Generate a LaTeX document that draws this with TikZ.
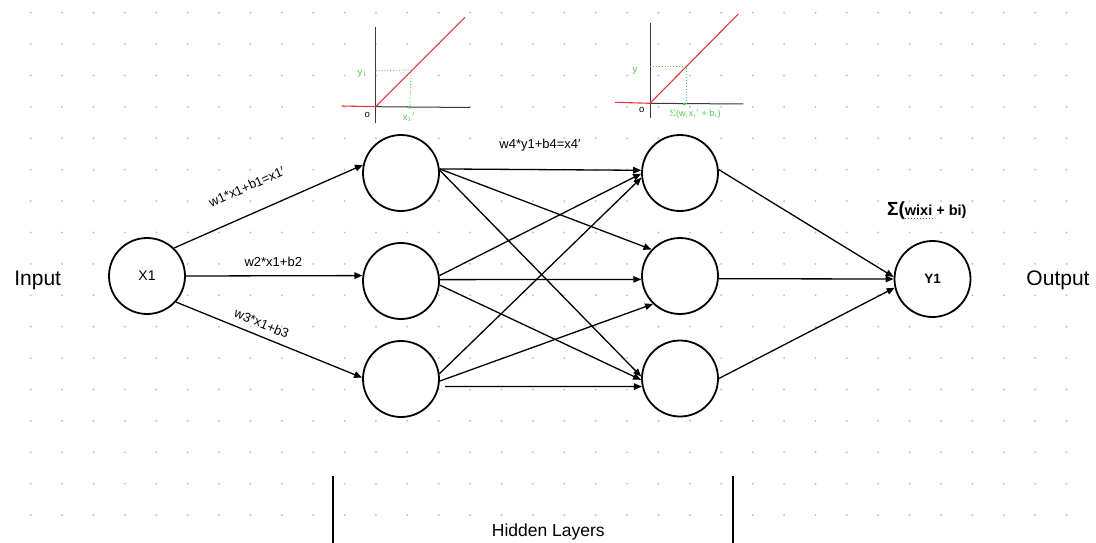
\documentclass[tikz,border=0pt]{standalone}
\usepackage{fontspec}
\setmainfont{Liberation Sans}
\usetikzlibrary{arrows.meta}
\definecolor{dotgray}{HTML}{C4C4C4}
\definecolor{hgreen}{HTML}{4CCB4C}
\definecolor{hred}{HTML}{E8333C}
\definecolor{axisgray}{HTML}{3A3A3A}
\begin{document}
\begin{tikzpicture}[x=1pt,y=-1pt,
  neuron/.style={circle,draw,line width=1.8pt,fill=white,minimum size=76pt,inner sep=0pt},
  conn/.style={line width=1.3pt,-{Triangle[length=8pt,width=6.5pt]}},
  wlabel/.style={font=\fontsize{13}{15}\selectfont,inner sep=0pt},
  biglabel/.style={font=\fontsize{21}{24}\selectfont,inner sep=0pt},
  axisline/.style={line width=1pt,axisgray},
  relu/.style={line width=1.1pt,hred},
  guide/.style={line width=0.9pt,hgreen,dotted},
  hand/.style={inner sep=0pt,text=hgreen,font=\fontsize{9.5}{10}\selectfont},
]
\useasboundingbox (0,0) rectangle (1096,543);
\fill[white] (0,0) rectangle (1096,543);
% dot grid
\foreach \i in {0,...,33}{
  \foreach \j in {0,...,16}{
    \fill[dotgray] ({30.7+31.39*\i},{12.7+31.4*\j}) circle (1.1);
  }
}
% neurons
\node[neuron,font=\fontsize{14}{16}\selectfont] (x1) at (147,276) {X1};
\node[neuron] (h1a) at (401,173) {};
\node[neuron] (h1b) at (401,281) {};
\node[neuron] (h1c) at (401,379) {};
\node[neuron] (h2a) at (680,173) {};
\node[neuron] (h2b) at (680,276) {};
\node[neuron] (h2c) at (680,378.5) {};
\node[neuron,font=\bfseries\fontsize{13.5}{16}\selectfont] (y1) at (932.5,279) {Y1};
% side texts
\node[biglabel] (inp) at (37.7,280) {Input};
\node[biglabel] (outp) at (1058,280) {Output};
% input -> hidden 1
\draw[conn] (x1.46) -- (h1a.168);
\draw[conn] (x1.0) -- (h1b.172);
\draw[conn] (x1.-42) -- (h1c.178);
\node[wlabel,rotate=24] (l1) at (246.7,186.7) {w1*x1+b1=x1′};
\node[wlabel] (l2) at (273.3,261.7) {w2*x1+b2};
\node[wlabel,rotate=-22.5] (l3) at (261.7,323.3) {w3*x1+b3};
% hidden 1 -> hidden 2
\draw[conn] (h1a.6.5) -- (h2a.176);
\draw[conn] (h1a.6) -- (h2b.137);
\draw[conn] (h1a.4) -- (h2c.177);
\draw[conn] (h1b.8) -- (h2a.181);
\draw[conn] (h1b.2.5) -- (h2b.185);
\draw[conn] (h1b.-6.5) -- (h2c.182);
\draw[conn] (h1c.8) -- (h2a.187);
\draw[conn] (h1c.-3.5) -- (h2b.226);
\draw[conn,shorten <=6pt] (h1c.-11.5) -- (h2c.192);
\node[wlabel] (l4) at (540,145) {w4*y1+b4=x4′};
% hidden 2 -> output
\draw[conn] (h2a.5.5) -- (y1.177);
\draw[conn] (h2b.-4.5) -- (y1.180);
\draw[conn] (h2c.0) -- (y1.193);
% sum label
\node[inner sep=0pt,anchor=base west] (sig) at (887,215) {\bfseries\fontsize{19}{20}\selectfont Σ(\fontsize{14.5}{16}\selectfont wixi + bi)};
\draw[hred,line width=1pt,dotted] (905,218.5) -- (933,218.5);
% hidden layers bracket
\draw[line width=1.6pt] (333,476) -- (333,543);
\draw[line width=1.6pt] (733,476) -- (733,543);
\node[inner sep=0pt,font=\fontsize{17.5}{20}\selectfont] (hl) at (548.3,531.5) {Hidden Layers};
% inset 1
\draw[axisline] (375.7,26.7) -- (375.7,123.3);
\draw[axisline] (375.7,106.7) -- (470,107.5);
\draw[relu] (341.7,106) -- (375.7,106.7) -- (465,17.3);
\draw[guide] (375.7,70.7) -- (411,70) -- (410,107.3);
\fill[hgreen] (410,107.3) circle (1.6);
\node[hand] (ya) at (362.3,74) {y$_1$};
\node[hand] (xa) at (409,117) {x$_1$$'$};
\node[hand,text=black] (oa) at (367.3,115) {o};
% inset 2
\draw[axisline] (650,23.3) -- (650,118.3);
\draw[axisline] (650,103.3) -- (743.3,104);
\draw[relu] (615,102.3) -- (650,103.3) -- (738.3,14);
\draw[guide] (650,66.7) -- (686,66.7) -- (686,104);
\fill[hgreen] (684.3,104) circle (1.6);
\node[hand] (yb) at (635,70.7) {y};
\node[hand,text=black] (ob) at (641.7,110) {o};
\node[hand,font=\fontsize{9}{10}\selectfont] (sb) at (695,114) {$\Sigma$(w$_i$x$_i$$'$ + b$_i$)};
\end{tikzpicture}
\end{document}
